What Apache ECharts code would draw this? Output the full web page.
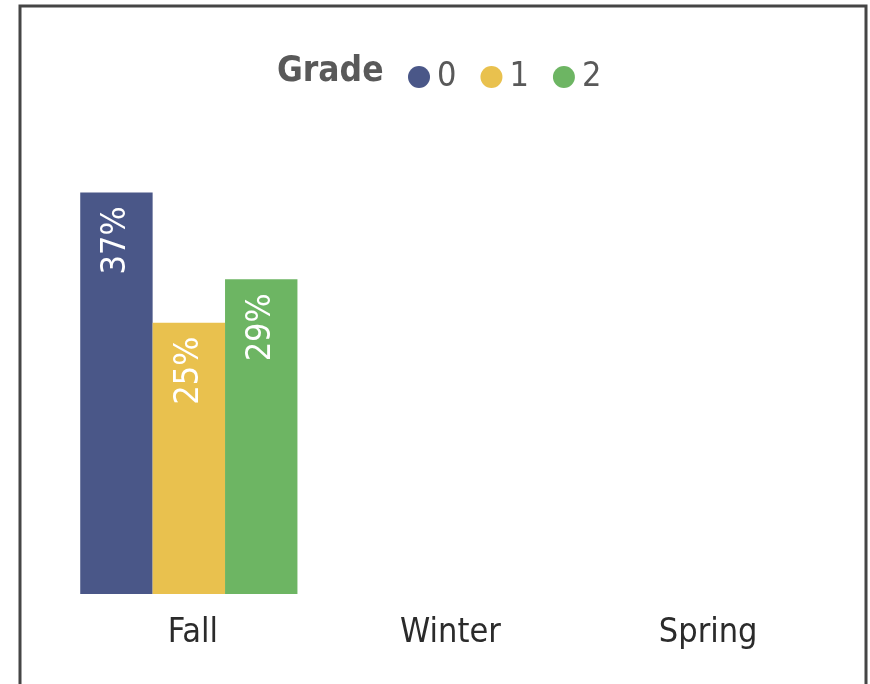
<!DOCTYPE html>
<html>
<head>
<meta charset="utf-8">
<script src="https://cdn.jsdelivr.net/npm/echarts@6/dist/echarts.min.js"></script>
<style>
html,body{margin:0;padding:0;background:#fff;}
#chart{width:870px;height:684px;}
</style>
</head>
<body>
<div id="chart"></div>
<script>
const categories = ['Fall', 'Winter', 'Spring'];
const seriesNames = ['0', '1', '2'];
const grade0 = [37, null, null];
const grade1 = [25, null, null];
const grade2 = [29, null, null];
const colors = ['#4a5788', '#e9c14e', '#6db563'];
const FONT = "'DejaVu Sans Condensed', 'Liberation Sans Narrow', sans-serif";

const chart = echarts.init(document.getElementById('chart'));
const mk = (name, data) => ({
  name: name,
  type: 'bar',
  data: data,
  barGap: '0%',
  barCategoryGap: '15.7%',
  label: {
    show: true,
    position: 'insideTop',
    rotate: 90,
    align: 'right',
    verticalAlign: 'middle',
    distance: 14,
    color: '#fff',
    fontSize: 34,
    fontFamily: FONT,
    formatter: '{c}%'
  }
});
chart.setOption({
  animation: false,
  color: colors,
  title: {
    text: 'Grade',
    left: 272,
    top: 49,
    textStyle: {fontFamily: FONT, fontSize: 35, fontWeight: 'bold', color: '#595959'}
  },
  legend: {
    data: seriesNames,
    left: 403,
    top: 55,
    icon: 'circle',
    itemWidth: 22,
    itemHeight: 22,
    itemGap: 24,
    textStyle: {fontFamily: FONT, fontSize: 34, color: '#595959', padding: [0, 0, 0, 2]}
  },
  grid: {left: 60, right: 37, top: 160, bottom: 90},
  xAxis: {
    type: 'category',
    data: categories,
    axisLine: {show: false},
    axisTick: {show: false},
    axisLabel: {fontFamily: FONT, fontSize: 34, color: '#2b2b2b', margin: 22, padding: [0, 0, 0, 8]}
  },
  yAxis: {
    type: 'value',
    min: 0,
    max: 40,
    show: false,
    splitLine: {show: false}
  },
  graphic: [{
    type: 'rect',
    shape: {x: 20, y: 6, width: 846, height: 720},
    style: {fill: 'none', stroke: '#454545', lineWidth: 3},
    silent: true
  }],
  series: [mk(seriesNames[0], grade0), mk(seriesNames[1], grade1), mk(seriesNames[2], grade2)]
});
</script>
</body>
</html>
